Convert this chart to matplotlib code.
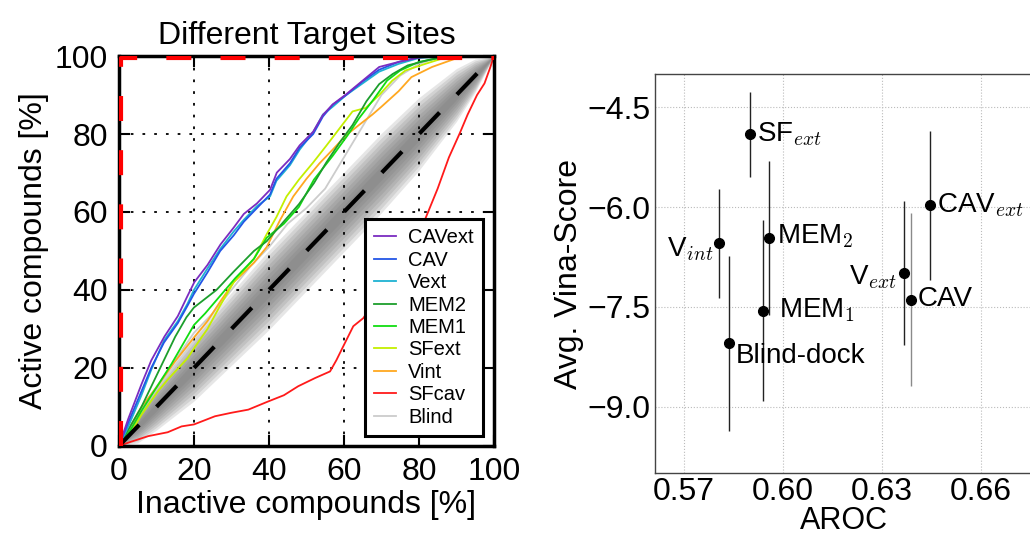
import matplotlib
matplotlib.use('Agg')
import matplotlib.pyplot as plt
import numpy as np

plt.rcParams['font.family'] = ['Liberation Sans', 'DejaVu Sans']
plt.rcParams['mathtext.fontset'] = 'cm'

# ROC curves (percent)
cavext_x = [0, 2.5, 6, 8.6, 12.1, 15.7, 18.3, 20.1, 23.6, 27.1, 30.6, 33.3, 36.8, 40.3, 42.1, 45.6, 48.2, 51.8, 54.4, 57, 60.6, 65, 69.4, 74.6, 79.9, 85, 100]
cavext_y = [0, 7, 15.8, 21.9, 28, 33.3, 38.5, 42, 46.4, 51.7, 56, 59.5, 62.2, 65.7, 70.1, 73.6, 77.1, 80.6, 84.9, 87.6, 90.2, 93.7, 97.2, 98.5, 99.6, 100, 100]
cav_x = [0, 2.5, 6, 8.6, 12, 15.7, 18.3, 20, 23.6, 27, 30.6, 33.3, 36.8, 40.3, 42, 45.6, 48.2, 51.8, 54.4, 57, 60.6, 65, 69.4, 74.6, 80, 86, 100]
cav_y = [0, 6, 14, 20, 26.5, 31.5, 36, 39, 44.5, 50, 54, 57.5, 61, 64.5, 68.5, 72.5, 76.5, 80, 84.5, 87.5, 90, 93.5, 96.5, 98.5, 99.7, 100, 100]
vext_x = [0, 2.5, 6, 8.6, 12, 15.7, 18.3, 20, 23.6, 27, 30.6, 33.3, 36.8, 40.3, 42, 45.6, 48.2, 51.8, 54.4, 57, 60.6, 65, 69.4, 74.6, 80, 87, 100]
vext_y = [0, 5, 13, 19.5, 27, 32, 36.5, 40, 45.5, 50.5, 55, 58, 61.5, 64, 68, 72, 76, 80.5, 85, 87, 90, 93, 96, 98, 99.5, 100, 100]
mem2_x = [0, 3, 6, 9, 12, 15, 18, 20, 26, 30.6, 36, 39.4, 45, 48, 52, 55.3, 59, 62.3, 66, 69.4, 73, 77, 83, 88, 100]
mem2_y = [0, 5, 10, 16, 22, 28, 33, 35.5, 40, 44.7, 50, 52.5, 58.7, 62, 67.4, 72.7, 78, 82.3, 88.4, 92.8, 95.4, 97.6, 99.1, 100, 100]
mem1_x = [0, 3, 6, 10, 14, 17, 20, 23, 27, 31, 36, 39.4, 44, 48, 52, 57, 61, 64, 68, 71.5, 75, 80, 86, 90, 100]
mem1_y = [0, 4, 9, 15, 21, 26, 31, 34, 38.5, 43, 48, 53.4, 57, 61.3, 68.3, 74.4, 79.7, 84, 89, 93.7, 96.3, 98.5, 99.6, 100, 100]
sfext_x = [0, 3, 6, 10.4, 13, 18.3, 20, 23.6, 27, 30.6, 36, 39.4, 42, 44.7, 48, 51.8, 55.3, 58.8, 62.3, 65.8, 69.4, 72.9, 76.4, 81.7, 87, 92, 100]
sfext_y = [0, 3, 8, 14, 17, 22.5, 25, 30, 36, 42, 48, 54.3, 58.7, 64, 68.3, 72.7, 77, 81.4, 85.8, 86.7, 90, 93.7, 96.3, 98, 99.6, 100, 100]
vint_x = [0, 1.6, 6, 10.4, 14.8, 20, 23.6, 27, 30.6, 36, 39.4, 43, 46.5, 50, 53.5, 57, 60.6, 64, 67.6, 70, 74.6, 78, 83.5, 90.5, 95, 100]
vint_y = [0, 2.6, 10, 15.5, 21.5, 27.8, 32, 37, 42, 47, 51, 58, 64, 68.5, 72.5, 76, 79.7, 82.3, 85, 87, 91, 94.6, 97.2, 99.6, 100, 100]
sfcav_x = [0, 3, 7.8, 13, 16.7, 20, 25.6, 30, 34.5, 39.8, 44, 47.8, 52.3, 56.3, 58, 59.8, 62.5, 65.2, 70, 75, 78, 81.6, 85, 88, 90.9, 93, 95.5, 97.5, 99, 100]
sfcav_y = [0, 1, 2.5, 3.5, 5, 5.5, 7.6, 8.5, 9.3, 11.4, 13, 15.3, 17.4, 19.1, 22, 25.5, 30.7, 32.8, 40, 48, 53, 58, 66, 74, 80.2, 85, 90, 93, 97, 100]
blind_x = [0, 5, 10, 15, 20, 25, 30, 35, 40, 45, 50, 55, 60, 65, 70, 75, 80, 85, 90, 100]
blind_y = [0, 8, 15, 22, 29, 34, 40, 46, 51, 57, 61, 66, 74, 82, 90, 95, 98, 99.5, 100, 100]

# spread of the random (grey) curves around the diagonal
band_x = [0, 5, 10, 20, 30, 40, 50, 60, 70, 80, 90, 95, 100]
band_half = [0, 2.5, 3.5, 5, 5.5, 6, 6, 6, 6, 5.5, 4, 2.5, 0]

# right panel
site_names = ['SF$_{ext}$', 'V$_{int}$', 'Blind-dock', 'MEM$_1$', 'MEM$_2$', 'V$_{ext}$', 'CAV', 'CAV$_{ext}$']
aroc = [0.5899, 0.5806, 0.5836, 0.5941, 0.5957, 0.6366, 0.6386, 0.6446]
vina_score = [-4.90, -6.54, -8.05, -7.56, -6.46, -6.99, -7.39, -5.97]
vina_err = [0.64, 0.82, 1.31, 1.36, 1.16, 1.08, 1.30, 1.12]

curves = [
    ('CAVext', cavext_x, cavext_y, '#7b2cc0'),
    ('CAV', cav_x, cav_y, '#2356e6'),
    ('Vext', vext_x, vext_y, '#1fb2d2'),
    ('MEM2', mem2_x, mem2_y, '#1c9e2c'),
    ('MEM1', mem1_x, mem1_y, '#11dd11'),
    ('SFext', sfext_x, sfext_y, '#c4ef00'),
    ('Vint', vint_x, vint_y, '#ffa820'),
    ('SFcav', sfcav_x, sfcav_y, '#ff1a1a'),
    ('Blind', blind_x, blind_y, '#cccccc'),
]

fig = plt.figure(figsize=(10.3, 5.34), dpi=100)

# ---------- left: ROC ----------
ax1 = fig.add_axes([0.1155, 0.165, 0.364, 0.730])
bx = np.array(band_x, dtype=float)
bh = np.array(band_half, dtype=float)
for s in [1.7, 1.5, 1.3, 1.1, 0.9, 0.7, 0.5, 0.3]:
    ax1.fill_between(bx, bx - s * bh, bx + s * bh, color='#707070', alpha=0.17, lw=0, zorder=1)

# draw back to front so purple ends on top
for name, x, y, c in curves[::-1]:
    ax1.plot(x, y, color=c, lw=1.3, label=name, zorder=2)

ax1.plot([0, 100], [0, 100], color='black', lw=3, dashes=(7, 6), zorder=3)
ax1.plot([0.5, 0.5, 100], [0, 99.5, 99.5], color='red', lw=3, dashes=(6, 7), zorder=3)

ax1.set_xlim(0, 100)
ax1.set_ylim(0, 100)
ax1.set_xticks(range(0, 101, 20))
ax1.set_yticks(range(0, 101, 20))
ax1.grid(True, color='black', linestyle=(0, (1.5, 5)), lw=1.3)
ax1.tick_params(direction='in', length=8, width=1.5, top=True, right=True, labelsize=23, pad=8)
for sp in ax1.spines.values():
    sp.set_linewidth(2.5)
ax1.set_title('Different Target Sites', fontsize=23, pad=9)
ax1.set_xlabel('Inactive compounds [%]', fontsize=23, labelpad=2)
ax1.set_ylabel('Active compounds [%]', fontsize=23, labelpad=4)

h, l = ax1.get_legend_handles_labels()
leg = ax1.legend(h[::-1], l[::-1], loc='lower right', bbox_to_anchor=(0.97, 0.026), borderaxespad=0,
                 fontsize=14.5, labelspacing=0.17, handlelength=1.1, handletextpad=0.6,
                 fancybox=False, edgecolor='black', framealpha=1, borderpad=0.45)
leg.get_frame().set_linewidth(2.2)

# ---------- right: score vs AROC ----------
ax2 = fig.add_axes([0.636, 0.114, 0.367, 0.747])
bar_colors = ['#222222'] * len(aroc)
bar_colors[6] = '#8a8a8a'
for i in range(len(aroc)):
    ax2.errorbar(aroc[i], vina_score[i], yerr=vina_err[i], fmt='o', color='black', ms=7,
                 ecolor=bar_colors[i], elinewidth=1, capsize=0, zorder=3)

offsets = [(5, -5), (-4, -9.6), (5, -13.7), (11.5, -4.3), (5.7, -4.3), (-4.6, -8), (5, -4.8), (5, -5)]
aligns = ['left', 'right', 'left', 'left', 'left', 'right', 'left', 'left']
for i, name in enumerate(site_names):
    ax2.annotate(name, (aroc[i], vina_score[i]), xytext=offsets[i], textcoords='offset points',
                 fontsize=20, ha=aligns[i], va='baseline')

ax2.set_xlim(0.5613, 0.6757)
ax2.set_ylim(-10, -4)
ax2.set_xticks([0.57, 0.60, 0.63, 0.66])
ax2.set_yticks([-4.5, -6.0, -7.5, -9.0])
ax2.set_xticklabels(['%.2f' % v for v in [0.57, 0.60, 0.63, 0.66]])
ax2.set_yticklabels(['\u2212%.1f' % abs(v) for v in [-4.5, -6.0, -7.5, -9.0]])
ax2.grid(True, color='#bbbbbb', linestyle=':', lw=0.8)
ax2.tick_params(length=0, labelsize=23)
ax2.tick_params(axis='y', pad=3)
ax2.tick_params(axis='x', pad=3)
for sp in ax2.spines.values():
    sp.set_linewidth(1)
    sp.set_color('#444444')
ax2.set_ylabel('Avg. Vina-Score', fontsize=23, labelpad=3)
ax2.set_xlabel('AROC', fontsize=22, labelpad=-1)

fig.savefig('out.png', dpi=100)
